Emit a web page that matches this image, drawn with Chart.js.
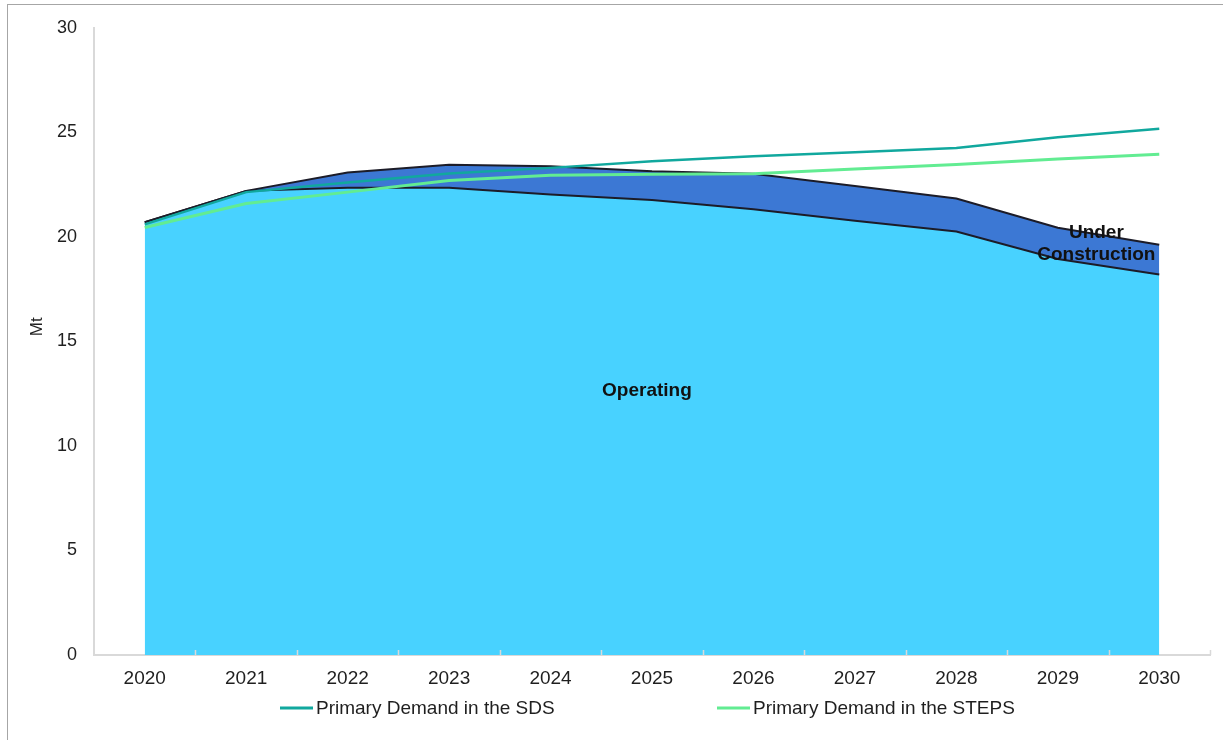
<!DOCTYPE html>
<html>
<head>
<meta charset="utf-8">
<script src="https://cdn.jsdelivr.net/npm/chart.js@4.4.1/dist/chart.umd.min.js"></script>
<style>
    html, body { margin: 0; padding: 0; background: #ffffff; }
    .wrap { position: relative; width: 1223px; height: 740px; overflow: hidden; }
    .frame { position: absolute; left: 7px; top: 4px; width: 1300px; height: 800px;
             border-left: 1px solid #a6a6a6; border-top: 1px solid #a6a6a6; }
    canvas { position: absolute; left: 0; top: 0; }
</style>
</head>
<body>
<div class="wrap">
    <div class="frame"></div>
    <canvas id="supplyChart" width="1223" height="740"></canvas>
</div>
<script>
// Chart data (Mt)
const years = ['2020', '2021', '2022', '2023', '2024', '2025', '2026', '2027', '2028', '2029', '2030'];
const operating = [20.7, 22.2, 22.35, 22.35, 22.03, 21.76, 21.32, 20.77, 20.26, 18.94, 18.2];
const underConstruction = [0, 0, 0.73, 1.1, 1.35, 1.38, 1.7, 1.66, 1.57, 1.5, 1.42];
const sdsDemand = [20.6, 22.14, 22.6, 23.03, 23.3, 23.62, 23.86, 24.05, 24.25, 24.77, 25.17];
const stepsDemand = [20.45, 21.6, 22.14, 22.7, 22.95, 23.0, 23.02, 23.25, 23.46, 23.73, 23.95];

const FONT = '"Liberation Sans", Arial, sans-serif';
const TEXT_COLOR = '#1f1f1f';
const AXIS_COLOR = '#d9d9d9';

// small tick marks pointing up into the plot, between categories
const innerTicks = {
    id: 'innerTicks',
    afterDatasetsDraw(chart) {
        const x = chart.scales.x;
        const bottom = chart.chartArea.bottom;
        const half = (x.getPixelForValue(1) - x.getPixelForValue(0)) / 2;
        const ctx = chart.ctx;
        ctx.save();
        ctx.strokeStyle = AXIS_COLOR;
        ctx.lineWidth = 1.5;
        ctx.beginPath();
        for (let i = 0; i < years.length; i++) {
            const px = Math.round(x.getPixelForValue(i) + half) + 0.5;
            ctx.moveTo(px, bottom);
            ctx.lineTo(px, bottom - 5);
        }
        ctx.stroke();
        ctx.restore();
    }
};

// in-chart area labels and the y axis unit
const areaLabels = {
    id: 'areaLabels',
    afterDatasetsDraw(chart) {
        const {x, y} = chart.scales;
        const ctx = chart.ctx;
        ctx.save();
        ctx.fillStyle = '#111111';
        ctx.font = 'bold 19px ' + FONT;
        ctx.textAlign = 'center';
        ctx.textBaseline = 'middle';
        ctx.fillText('Operating', x.getPixelForValue(4.95), y.getPixelForValue(12.65));
        ctx.fillText('Under', x.getPixelForValue(9.38), y.getPixelForValue(20.21));
        ctx.fillText('Construction', x.getPixelForValue(9.38), y.getPixelForValue(19.16));

        // axis unit
        ctx.fillStyle = TEXT_COLOR;
        ctx.font = '17px ' + FONT;
        ctx.translate(y.left + 29, y.getPixelForValue(15.7));
        ctx.rotate(-Math.PI / 2);
        ctx.fillText('Mt', 0, 0);
        ctx.restore();
    }
};

// legend for the two demand lines only
const bottomLegend = {
    id: 'bottomLegend',
    afterDraw(chart) {
        const ctx = chart.ctx;
        const items = [
            { ds: chart.data.datasets[0], x: 280 },
            { ds: chart.data.datasets[1], x: 717 }
        ];
        const yMid = 708;
        ctx.save();
        ctx.font = '19px ' + FONT;
        ctx.textBaseline = 'middle';
        ctx.textAlign = 'left';
        items.forEach(item => {
            ctx.strokeStyle = item.ds.borderColor;
            ctx.lineWidth = 3;
            ctx.beginPath();
            ctx.moveTo(item.x, yMid);
            ctx.lineTo(item.x + 33, yMid);
            ctx.stroke();
            ctx.fillStyle = TEXT_COLOR;
            ctx.fillText(item.ds.label, item.x + 36, yMid + 1);
        });
        ctx.restore();
    }
};

const supplyChart = new Chart(document.getElementById('supplyChart').getContext('2d'), {
    type: 'line',
    data: {
        labels: years,
        datasets: [
            {
                label: 'Primary Demand in the SDS',
                data: sdsDemand,
                borderColor: '#11a89e',
                borderWidth: 2.5,
                pointRadius: 0,
                fill: false,
                stack: 'sds'
            },
            {
                label: 'Primary Demand in the STEPS',
                data: stepsDemand,
                borderColor: '#62ec92',
                borderWidth: 3,
                pointRadius: 0,
                fill: false,
                stack: 'steps'
            },
            {
                label: 'Operating',
                data: operating,
                borderColor: '#1c1c28',
                backgroundColor: '#48d2ff',
                borderWidth: 2,
                pointRadius: 0,
                fill: 'origin',
                stack: 'supply'
            },
            {
                label: 'Under Construction',
                data: underConstruction,
                borderColor: '#1c1c28',
                backgroundColor: '#3c78d4',
                borderWidth: 2,
                pointRadius: 0,
                fill: '-1',
                stack: 'supply'
            }
        ]
    },
    options: {
        responsive: false,
        animation: false,
        layout: {
            padding: { left: 8, right: 13, top: 24, bottom: 50 }
        },
        plugins: {
            legend: { display: false },
            tooltip: { enabled: false },
            title: { display: false }
        },
        scales: {
            x: {
                offset: true,
                grid: { display: false, drawTicks: false },
                border: { display: true, color: AXIS_COLOR, width: 2 },
                ticks: {
                    color: TEXT_COLOR,
                    padding: 12,
                    maxRotation: 0,
                    font: { family: FONT, size: 19 }
                },
                afterFit(scale) { scale.height = 35; }
            },
            y: {
                stacked: true,
                min: 0,
                max: 30,
                grid: { display: false, drawTicks: false },
                border: { display: true, color: AXIS_COLOR, width: 2 },
                ticks: {
                    stepSize: 5,
                    color: TEXT_COLOR,
                    padding: 17,
                    font: { family: FONT, size: 18 }
                },
                afterFit(scale) { scale.width = 86; }
            }
        }
    },
    plugins: [innerTicks, areaLabels, bottomLegend]
});
</script>
</body>
</html>
